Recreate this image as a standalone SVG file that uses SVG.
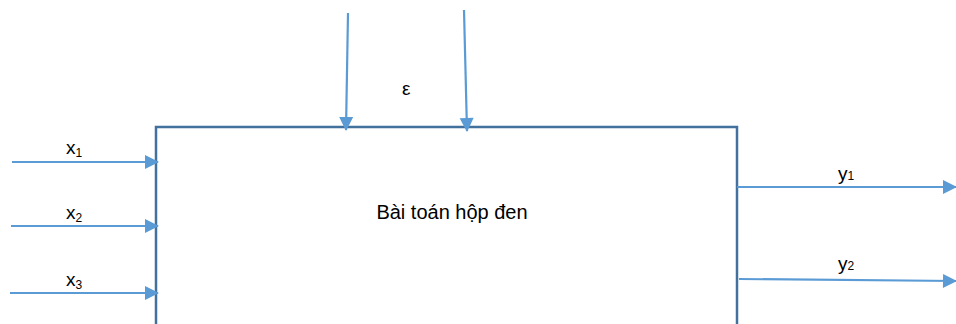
<svg xmlns="http://www.w3.org/2000/svg" width="956" height="324" viewBox="0 0 956 324">
<style>
.box{fill:#fff;stroke:#41719c;stroke-width:2.5}
.c{stroke:#5b9bd5;stroke-width:2.2;fill:none;marker-end:url(#ah)}
text{font-family:"Liberation Sans",Arial,sans-serif;fill:#000}
.l{font-size:19px}
.m{font-size:20px}
.s{font-size:12px}
</style>
<defs>
<marker id="ah" markerUnits="userSpaceOnUse" markerWidth="15" markerHeight="15" viewBox="0 0 14 15" refX="13" refY="7.5" orient="auto">
<path d="M0,0.5 L14,7.5 L0,14.5 Z" fill="#5b9bd5"/>
</marker>
</defs>
<g id="box">
<rect class="box" x="156" y="127" width="581" height="220"/>
<text class="m" x="452" y="219" text-anchor="middle">Bài toán hộp đen</text>
</g>
<g id="labels">
<text class="l" x="66" y="154">x<tspan class="s" dy="3">1</tspan></text>
<text class="l" x="66" y="219">x<tspan class="s" dy="3">2</tspan></text>
<text class="l" x="66" y="286">x<tspan class="s" dy="3">3</tspan></text>
<text class="l" x="838" y="180">y<tspan class="s" dy="0">1</tspan></text>
<text class="l" x="838" y="270">y<tspan class="s" dy="0">2</tspan></text>
<text class="l" x="402" y="95">ε</text>
</g>
<g id="connectors">
<line class="c" x1="12" y1="162" x2="158" y2="162"/>
<line class="c" x1="11" y1="226" x2="158" y2="226"/>
<line class="c" x1="10" y1="293" x2="158" y2="293"/>
<line class="c" x1="348" y1="13" x2="346" y2="130"/>
<line class="c" x1="464" y1="10" x2="467" y2="131"/>
<line class="c" x1="737" y1="187" x2="956" y2="187"/>
<line class="c" x1="739" y1="279" x2="956" y2="281"/>
</g>
</svg>
